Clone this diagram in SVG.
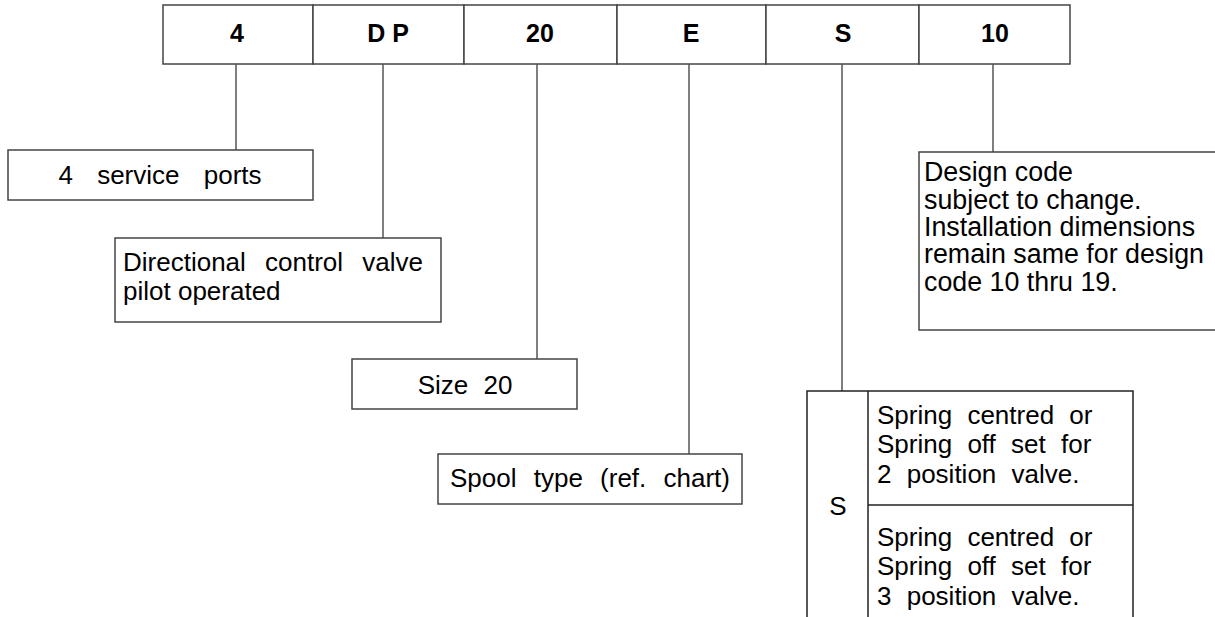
<svg xmlns="http://www.w3.org/2000/svg" width="1215" height="617" viewBox="0 0 1215 617">
<style>
.box{fill:#fff;stroke:#444;stroke-width:1.5}
.ln{stroke:#555;stroke-width:1.5;fill:none}
.hd{font-family:"Liberation Sans",Arial,sans-serif;font-weight:bold;font-size:25px;fill:#000;text-anchor:middle}
.tx{font-family:"Liberation Sans",Arial,sans-serif;font-size:26px;fill:#000}
.c{text-anchor:middle}
.dz{font-size:26.8px}
</style>
<rect width="1215" height="617" fill="#fff"/>
<g id="header">
<rect class="box" x="163" y="5" width="150" height="59"/>
<rect class="box" x="313" y="5" width="151" height="59"/>
<rect class="box" x="464" y="5" width="153" height="59"/>
<rect class="box" x="617" y="5" width="149" height="59"/>
<rect class="box" x="766" y="5" width="153" height="59"/>
<rect class="box" x="919" y="5" width="151" height="59"/>
<text class="hd" x="237" y="42">4</text>
<text class="hd" x="388" y="42">D P</text>
<text class="hd" x="540" y="42">20</text>
<text class="hd" x="691" y="42">E</text>
<text class="hd" x="843" y="42">S</text>
<text class="hd" x="995" y="42">10</text>
</g>
<g id="connectors">
<line class="ln" x1="236" y1="64" x2="236" y2="150"/>
<line class="ln" x1="383" y1="64" x2="383" y2="238"/>
<line class="ln" x1="537" y1="64" x2="537" y2="359"/>
<line class="ln" x1="689" y1="64" x2="689" y2="454"/>
<line class="ln" x1="842" y1="64" x2="842" y2="391"/>
<line class="ln" x1="993" y1="64" x2="993" y2="152"/>
</g>
<g id="ports">
<rect class="box" x="8" y="150" width="305" height="50"/>
<text class="tx c" x="160" y="184" style="word-spacing:17px">4 service ports</text>
</g>
<g id="type">
<rect class="box" x="115" y="238" width="326" height="84"/>
<text class="tx" x="123" y="271" style="word-spacing:12px">Directional control valve</text>
<text class="tx" x="123" y="300">pilot operated</text>
</g>
<g id="size">
<rect class="box" x="352" y="359" width="225" height="50"/>
<text class="tx c" x="465" y="394" style="word-spacing:8px">Size 20</text>
</g>
<g id="spool">
<rect class="box" x="438" y="454" width="304" height="50"/>
<text class="tx" x="450" y="487" style="word-spacing:10px">Spool type (ref. chart)</text>
</g>
<g id="design">
<path class="box" d="M1216,152 H919 V330 H1216"/>
<text class="tx dz" x="924" y="181">Design code</text>
<text class="tx dz" x="924" y="209">subject to change.</text>
<text class="tx dz" x="924" y="236">Installation dimensions</text>
<text class="tx dz" x="924" y="263">remain same for design</text>
<text class="tx dz" x="924" y="291">code 10 thru 19.</text>
</g>
<g id="spring">
<path class="ln" style="stroke:#222" d="M807,618 V391 H1133 V618 M868,391 V618 M868,505 H1133"/>
<text class="tx c" x="838" y="515">S</text>
<text class="tx" x="877" y="424" style="word-spacing:8px">Spring centred or</text>
<text class="tx" x="877" y="453" style="word-spacing:8px">Spring off set for</text>
<text class="tx" x="877" y="483" style="word-spacing:8px">2 position valve.</text>
<text class="tx" x="877" y="546" style="word-spacing:8px">Spring centred or</text>
<text class="tx" x="877" y="575" style="word-spacing:8px">Spring off set for</text>
<text class="tx" x="877" y="605" style="word-spacing:8px">3 position valve.</text>
</g>
</svg>
